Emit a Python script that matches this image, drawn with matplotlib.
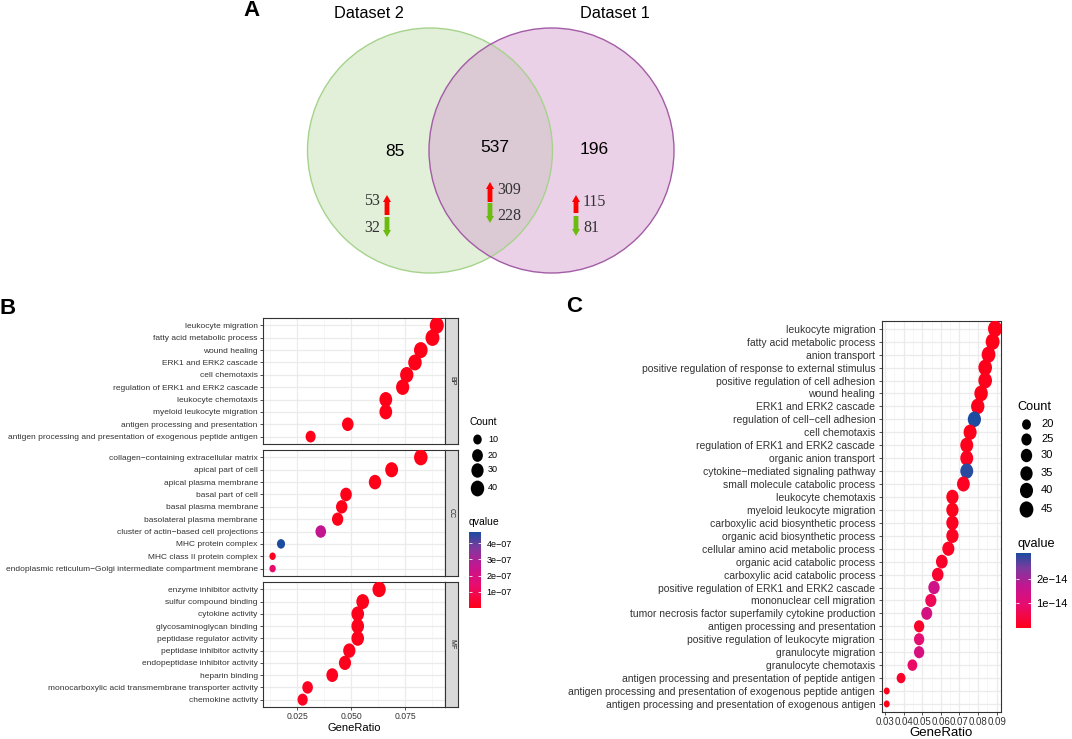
import numpy as np
import matplotlib
matplotlib.use("Agg")
import matplotlib.pyplot as plt
from matplotlib.patches import Circle, FancyArrow
from matplotlib.colors import LinearSegmentedColormap, Normalize
from matplotlib.cm import ScalarMappable
from matplotlib.path import Path
from matplotlib.markers import MarkerStyle
from matplotlib.transforms import Affine2D

plt.rcParams['font.family'] = ['Liberation Sans', 'DejaVu Sans']

# ---- Panel A: Venn counts ----
venn_names = ["Dataset 2", "Dataset 1"]
venn_totals = [85, 537, 196]          # only set 2, shared, only set 1
venn_up = [53, 309, 115]
venn_down = [32, 228, 81]

# ---- Panel B: GO enrichment, dataset facets ----
bp_terms = ["leukocyte migration", "fatty acid metabolic process", "wound healing",
            "ERK1 and ERK2 cascade", "cell chemotaxis", "regulation of ERK1 and ERK2 cascade",
            "leukocyte chemotaxis", "myeloid leukocyte migration",
            "antigen processing and presentation",
            "antigen processing and presentation of exogenous peptide antigen"]
bp_ratio = [0.0897, 0.0877, 0.0823, 0.0796, 0.0758, 0.0739, 0.0661, 0.0661, 0.0485, 0.0313]
bp_count = [46, 45, 42, 41, 39, 38, 34, 34, 25, 16]
bp_q = [1e-12, 2e-12, 5e-12, 4e-12, 6e-12, 8e-12, 1e-11, 1e-11, 2e-10, 5e-10]

cc_terms = ["collagen−containing extracellular matrix", "apical part of cell",
            "apical plasma membrane", "basal part of cell", "basal plasma membrane",
            "basolateral plasma membrane", "cluster of actin−based cell projections",
            "MHC protein complex", "MHC class II protein complex",
            "endoplasmic reticulum−Golgi intermediate compartment membrane"]
cc_ratio = [0.0823, 0.0688, 0.0611, 0.0477, 0.0457, 0.0438, 0.0360, 0.0176, 0.0137, 0.0137]
cc_count = [41, 35, 31, 25, 24, 23, 19, 9, 7, 7]
cc_q = [1e-10, 2e-10, 5e-10, 1e-09, 2e-09, 3e-09, 2.6e-07, 4.7e-07, 1.0e-08, 1.35e-07]

mf_terms = ["enzyme inhibitor activity", "sulfur compound binding", "cytokine activity",
            "glycosaminoglycan binding", "peptidase regulator activity",
            "peptidase inhibitor activity", "endopeptidase inhibitor activity",
            "heparin binding", "monocarboxylic acid transmembrane transporter activity",
            "chemokine activity"]
mf_ratio = [0.0630, 0.0554, 0.0531, 0.0531, 0.0531, 0.0492, 0.0472, 0.0413, 0.0299, 0.0276]
mf_count = [39, 34, 33, 33, 33, 30, 29, 26, 19, 17]
mf_q = [3e-09, 5e-09, 6e-09, 6e-09, 7e-09, 8e-09, 9e-09, 1e-08, 2e-08, 2e-08]

b_size_breaks = [10, 20, 30, 40]
b_q_ticks = [1e-07, 2e-07, 3e-07, 4e-07]
b_x_ticks = [0.025, 0.050, 0.075]

# ---- Panel C: GO BP enrichment ----
c_terms = ["leukocyte migration", "fatty acid metabolic process", "anion transport",
           "positive regulation of response to external stimulus",
           "positive regulation of cell adhesion", "wound healing", "ERK1 and ERK2 cascade",
           "regulation of cell−cell adhesion", "cell chemotaxis",
           "regulation of ERK1 and ERK2 cascade", "organic anion transport",
           "cytokine−mediated signaling pathway", "small molecule catabolic process",
           "leukocyte chemotaxis", "myeloid leukocyte migration",
           "carboxylic acid biosynthetic process", "organic acid biosynthetic process",
           "cellular amino acid metabolic process", "organic acid catabolic process",
           "carboxylic acid catabolic process",
           "positive regulation of ERK1 and ERK2 cascade", "mononuclear cell migration",
           "tumor necrosis factor superfamily cytokine production",
           "antigen processing and presentation",
           "positive regulation of leukocyte migration", "granulocyte migration",
           "granulocyte chemotaxis",
           "antigen processing and presentation of peptide antigen",
           "antigen processing and presentation of exogenous peptide antigen",
           "antigen processing and presentation of exogenous antigen"]
c_ratio = [0.0891, 0.0878, 0.0856, 0.0838, 0.0838, 0.0816, 0.0798, 0.0780, 0.0757, 0.0739,
           0.0739, 0.0739, 0.0721, 0.0662, 0.0662, 0.0662, 0.0662, 0.0640, 0.0605, 0.0583,
           0.0563, 0.0546, 0.0524, 0.0483, 0.0483, 0.0483, 0.0447, 0.0386, 0.0309, 0.0309]
c_count = [47, 46, 45, 44, 44, 43, 42, 41, 40, 39, 39, 39, 38, 35, 35, 35, 35, 34, 32, 31,
           30, 29, 28, 25, 25, 25, 23, 20, 16, 16]
c_q = [2e-16, 3e-16, 5e-16, 4e-16, 6e-16, 3e-16, 5e-16, 3.04e-14, 4e-16, 6e-16,
       1e-15, 2.95e-14, 1.2e-15, 8e-16, 6e-16, 1e-15, 1.2e-15, 1.5e-15, 2e-15, 2.5e-15,
       1.45e-14, 6.5e-15, 1.35e-14, 2e-15, 1.0e-14, 1.3e-14, 8.5e-15, 2e-15, 1e-16, 1e-16]
c_size_breaks = [20, 25, 30, 35, 40, 45]
c_q_ticks = [1e-14, 2e-14]
c_x_ticks = [0.03, 0.04, 0.05, 0.06, 0.07, 0.08, 0.09]

# ---- figure in pixel units ----
W, H = 1072, 739
fig = plt.figure(figsize=(W / 100, H / 100), dpi=100)


def px_axes(x0, y0, x1, y1):
    return fig.add_axes([x0 / W, 1 - y1 / H, (x1 - x0) / W, (y1 - y0) / H])


cmap = LinearSegmentedColormap.from_list(
    "qv", [(0, "#FF0018"), (0.3, "#E80C6E"), (0.55, "#C41590"), (0.8, "#7C3A9E"), (1, "#1B4C9F")])
ellipse = MarkerStyle(Path.unit_circle().transformed(Affine2D().scale(0.85, 1.0)))


def dot_size(count, cmin, cmax, dmin, dmax):
    frac = np.sqrt((np.asarray(count, float) - cmin) / (cmax - cmin))
    return ((dmin + (dmax - dmin) * frac) * 0.72) ** 2


def qfmt(v):
    return f"{v:.0e}".replace("-", "−")


def style_panel(ax, fs, xfs):
    for s in ax.spines.values():
        s.set_color('#333333')
        s.set_linewidth(0.8)
    ax.grid(True, which='major', color='#EBEBEB', lw=0.9)
    ax.grid(True, which='minor', axis='x', color='#F3F3F3', lw=0.5)
    ax.set_axisbelow(True)
    ax.tick_params(which='major', length=2.2, width=0.6, color='#333333',
                   labelcolor='#333333', pad=1.5)
    ax.tick_params(axis='y', labelsize=fs)
    ax.tick_params(axis='x', labelsize=xfs)
    ax.tick_params(which='minor', length=0)


def colorbar(x0, y0, x1, y1, norm, ticks, fs):
    cax = px_axes(x0, y0, x1, y1)
    cb = fig.colorbar(ScalarMappable(norm=norm, cmap=cmap), cax=cax)
    cb.outline.set_visible(False)
    cb.set_ticks(ticks)
    cb.set_ticklabels([qfmt(t) for t in ticks])
    cax.tick_params(direction='in', color='white', length=2.5, width=0.6,
                    left=True, right=True, labelsize=fs, pad=4)


# ---- overlay in pixel coordinates ----
ov = fig.add_axes([0, 0, 1, 1])
ov.set_xlim(0, W)
ov.set_ylim(H, 0)
ov.axis('off')

# Venn
ov.add_patch(Circle((430, 150.5), 122.5, fc="#E2F0D9", ec='none', zorder=1))
ov.add_patch(Circle((551.5, 150.5), 122.5, fc=(211 / 255, 155 / 255, 204 / 255), alpha=0.45,
                    ec='none', zorder=2))
ov.add_patch(Circle((430, 150.5), 122.5, fc='none', ec="#A6D38C", lw=1.0, zorder=3))
ov.add_patch(Circle((551.5, 150.5), 122.5, fc='none', ec="#A35CA6", lw=1.0, zorder=3))
ov.text(369, 13, venn_names[0], fontsize=11.7, ha='center', va='center')
ov.text(615, 14, venn_names[1], fontsize=11.7, ha='center', va='center')
for x, y, v in zip([395, 495, 594], [151, 148, 150], venn_totals):
    ov.text(x, y, str(v), fontsize=12.5, ha='center', va='center', zorder=4)

arrow_x = [387, 490, 576]
up_span = [(215, 195), (202, 182), (213, 195)]
dn_span = [(217, 237), (203, 223), (216, 236)]
num_y = [(201, 228), (190, 216), (202, 228)]
for i in range(3):
    for (ya, yb), col in [(up_span[i], "#FF0000"), (dn_span[i], "#6CBB10")]:
        ov.add_patch(FancyArrow(arrow_x[i], ya, 0, yb - ya, width=4.8, head_width=8,
                                head_length=7, length_includes_head=True, color=col,
                                lw=0, zorder=4))
    if i == 0:
        nx, ha = arrow_x[i] - 7, 'right'
    else:
        nx, ha = arrow_x[i] + 7, 'left'
    for y, v in zip(num_y[i], [venn_up[i], venn_down[i]]):
        ov.text(nx, y, str(v), fontsize=11.5, family='Liberation Serif', color='#333333',
                ha=ha, va='center', zorder=4)

for x, y, s in [(251, 10, "A"), (8, 309, "B"), (574, 306, "C")]:
    ov.text(x, y, s, fontsize=16, fontweight='bold', ha='center', va='center')

# ---- Panel B ----
b_all_count = bp_count + cc_count + mf_count
b_all_q = bp_q + cc_q + mf_q
b_cmin, b_cmax = min(b_all_count), max(b_all_count)
b_norm = Normalize(min(b_all_q), max(b_all_q))
b_facets = [("BP", bp_terms, bp_ratio, bp_count, bp_q),
            ("CC", cc_terms, cc_ratio, cc_count, cc_q),
            ("MF", mf_terms, mf_ratio, mf_count, mf_q)]
b_rows = [(318, 444), (450, 576), (582, 707)]
B_DMIN, B_DMAX = 7.5, 16.5

for k, ((lab, terms, ratio, count, q), (y0, y1)) in enumerate(zip(b_facets, b_rows)):
    ax = px_axes(263, y0, 445, y1)
    style_panel(ax, 6.0, 6.2)
    ypos = np.arange(len(terms))
    ax.scatter(ratio, ypos, s=dot_size(count, b_cmin, b_cmax, B_DMIN, B_DMAX), c=q,
               cmap=cmap, norm=b_norm, marker=ellipse, linewidths=0, zorder=3)
    ax.set_yticks(ypos)
    ax.set_yticklabels(terms)
    ax.set_ylim(len(terms) - 0.4, -0.6)
    ax.set_xlim(0.00926, 0.0935)
    ax.set_xticks(b_x_ticks)
    ax.set_xticks([0.0125, 0.0375, 0.0625, 0.0875], minor=True)
    ax.set_xticklabels([f"{t:.3f}" for t in b_x_ticks])
    if k < 2:
        ax.tick_params(axis='x', bottom=False, labelbottom=False)
    else:
        ax.set_xlabel("GeneRatio", fontsize=8, labelpad=1)
    sax = px_axes(445, y0, 458, y1)
    sax.set_facecolor('#D9D9D9')
    sax.set_xticks([])
    sax.set_yticks([])
    for s in sax.spines.values():
        s.set_color('#333333')
        s.set_linewidth(0.8)
    sax.text(0.5, 0.5, lab, rotation=-90, fontsize=5, color='#1A1A1A',
             ha='center', va='center', transform=sax.transAxes)

# Panel B legend
ov.text(469, 422, "Count", fontsize=7.5, ha='left', va='center')
for y, v in zip([439, 455, 470, 488], b_size_breaks):
    ov.scatter([477], [y], s=dot_size(v, b_cmin, b_cmax, B_DMIN, B_DMAX), c='black',
               marker=ellipse, linewidths=0)
    ov.text(488, y, str(v), fontsize=6.5, ha='left', va='center')
ov.text(469, 522, "qvalue", fontsize=7.5, ha='left', va='center')
colorbar(469, 532, 481, 608, b_norm, b_q_ticks, 6.5)

# ---- Panel C ----
c_cmin, c_cmax = min(c_count), max(c_count)
c_norm = Normalize(min(c_q), max(c_q))
C_DMIN, C_DMAX = 7, 16.5
axc = px_axes(881.7, 321, 1001, 711.7)
style_panel(axc, 7.5, 7)
yc = np.arange(len(c_terms))
axc.scatter(c_ratio, yc, s=dot_size(c_count, c_cmin, c_cmax, C_DMIN, C_DMAX), c=c_q,
            cmap=cmap, norm=c_norm, marker=ellipse, linewidths=0, zorder=3)
axc.set_yticks(yc)
axc.set_yticklabels(c_terms)
axc.set_ylim(len(c_terms) - 0.4, -0.6)
axc.set_xlim(0.0282, 0.0923)
axc.set_xticks(c_x_ticks)
axc.set_xticks([0.035, 0.045, 0.055, 0.065, 0.075, 0.085], minor=True)
axc.set_xticklabels([f"{t:.2f}" for t in c_x_ticks])
axc.tick_params(axis='y', pad=2.5)
axc.set_xlabel("GeneRatio", fontsize=9.5, labelpad=0)

ov.text(1017, 407, "Count", fontsize=9.2, ha='left', va='center')
for y, v in zip([424, 439, 455, 473, 490, 509], c_size_breaks):
    ov.scatter([1026], [y], s=dot_size(v, c_cmin, c_cmax, C_DMIN, C_DMAX), c='black',
               marker=ellipse, linewidths=0)
    ov.text(1041, y, str(v), fontsize=8, ha='left', va='center')
ov.text(1017, 544, "qvalue", fontsize=9.2, ha='left', va='center')
colorbar(1016, 553, 1031, 628, c_norm, c_q_ticks, 8)

fig.savefig("out.png", dpi=100)
